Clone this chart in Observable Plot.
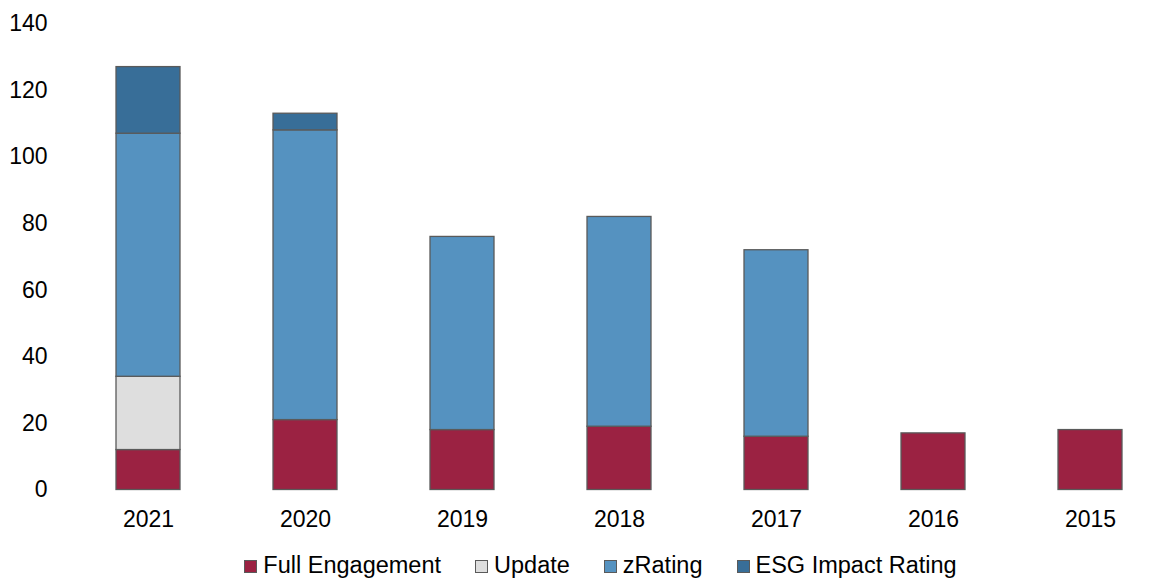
<!DOCTYPE html>
<html>
<head>
<meta charset="utf-8">
<script src="https://cdn.jsdelivr.net/npm/d3@7"></script>
<script src="https://cdn.jsdelivr.net/npm/@observablehq/plot@0.6"></script>
<style>
  html, body { margin: 0; padding: 0; background: #fff; }
  body { width: 1160px; height: 580px; overflow: hidden; font-family: "Liberation Sans", Arial, sans-serif; }
  #legend { display: flex; justify-content: center; align-items: center; height: 52px; line-height: 1; font-size: 23.5px; color: #000; padding-left: 41px; box-sizing: border-box; }
  .item { display: flex; align-items: center; margin: 0 17px; }
  .swatch { width: 11px; height: 11px; border: 1px solid #5a5a5a; margin-right: 6px; }
</style>
</head>
<body>
<div id="chart"></div>
<div id="legend"></div>
<script>
// Reports per year, by engagement type
const years = ["2021", "2020", "2019", "2018", "2017", "2016", "2015"];
const fullEngagement = [12, 21, 18, 19, 16, 17, 18];
const update = [22, 0, 0, 0, 0, 0, 0];
const zRating = [73, 87, 58, 63, 56, 0, 0];
const esgImpact = [20, 5, 0, 0, 0, 0, 0];
const yTicks = [0, 20, 40, 60, 80, 100, 120, 140];

const seriesNames = ["Full Engagement", "Update", "zRating", "ESG Impact Rating"];
const seriesColors = ["#9b2242", "#dedede", "#5592c0", "#386e98"];
const seriesValues = [fullEngagement, update, zRating, esgImpact];

const rows = [];
seriesNames.forEach((name, s) => {
  years.forEach((year, i) => {
    rows.push({year, series: name, order: s, value: seriesValues[s][i]});
  });
});

const chart = Plot.plot({
  width: 1160,
  height: 540,
  marginTop: 23,
  marginBottom: 50,
  marginLeft: 69.5,
  marginRight: 0,
  style: {fontFamily: "'Liberation Sans', Arial, sans-serif", fontSize: "23px", color: "#000", background: "#fff"},
  x: {domain: years, range: [69.5, 1168.5], paddingInner: 0.592, paddingOuter: 0.296, label: null},
  y: {domain: [0, 140], range: [489.5, 23.3], label: null},
  color: {domain: seriesNames, range: seriesColors},
  marks: [
    Plot.ruleY(yTicks, {stroke: "#d9d9d9", strokeWidth: 1.5, x1: 69.5, x2: 1160}),
    Plot.barY(rows.filter(d => d.value > 0), Plot.stackY({
      x: "year",
      y: "value",
      fill: "series",
      order: seriesNames,
      stroke: "#5a5a5a",
      strokeWidth: 1.3
    })),
    Plot.axisX({tickSize: 0, tickPadding: 20, fontSize: 23, label: null}),
    Plot.axisY({ticks: yTicks, tickSize: 0, tickPadding: 22.5, fontSize: 23, label: null, tickFormat: d => String(d)})
  ]
});
document.getElementById("chart").appendChild(chart);

const legend = document.getElementById("legend");
seriesNames.forEach((name, s) => {
  const item = document.createElement("div");
  item.className = "item";
  const sw = document.createElement("span");
  sw.className = "swatch";
  sw.style.background = seriesColors[s];
  const label = document.createElement("span");
  label.textContent = name;
  item.appendChild(sw);
  item.appendChild(label);
  legend.appendChild(item);
});
</script>
</body>
</html>
